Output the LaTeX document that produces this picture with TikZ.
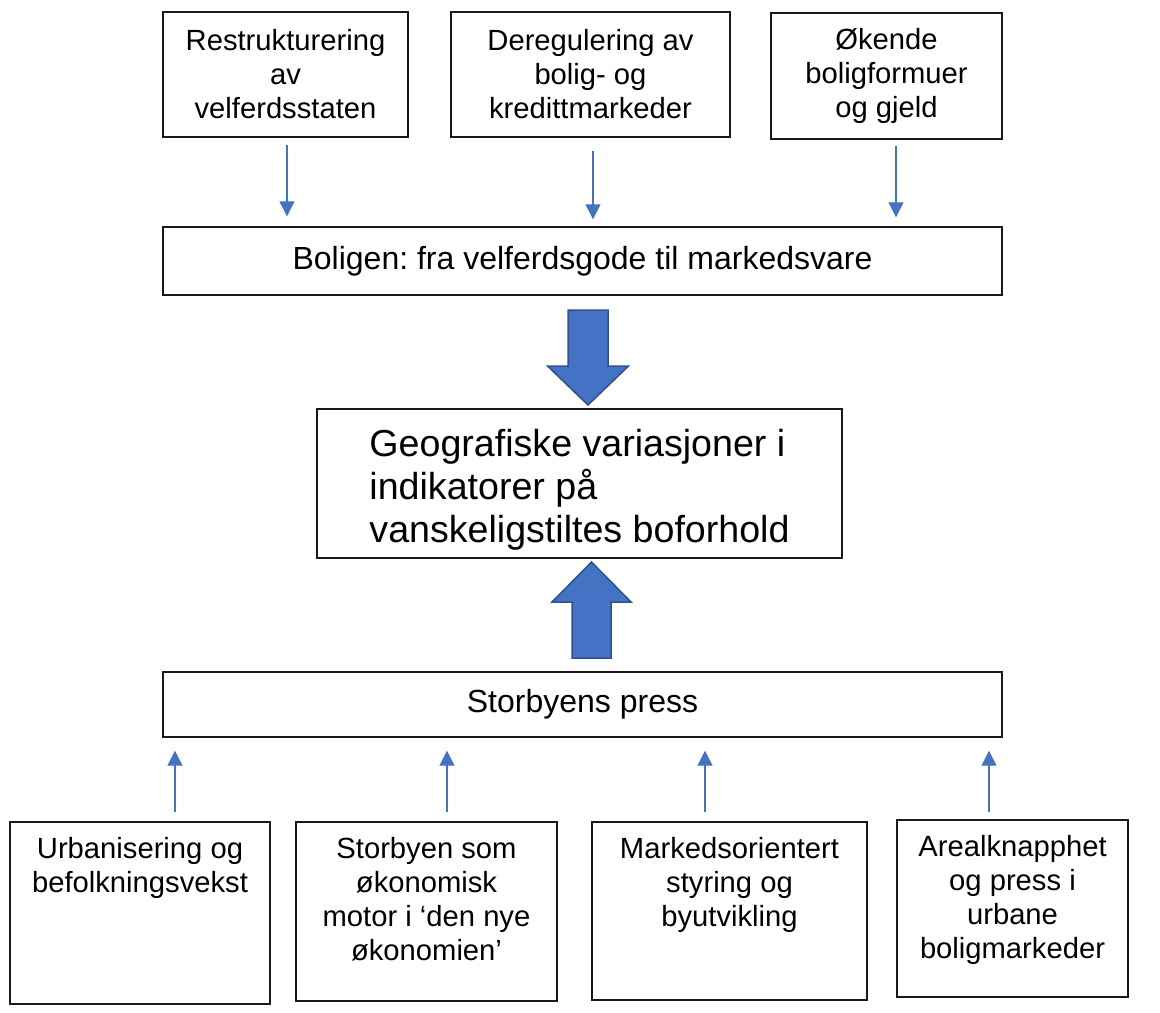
\documentclass[tikz,border=0pt]{standalone}
\usepackage{fontspec}
\setmainfont{Liberation Sans}
\usetikzlibrary{arrows.meta}
\frenchspacing

\definecolor{arrowblue}{RGB}{68,114,196}
\definecolor{arrowedge}{RGB}{47,82,143}

\newlength{\du}
\setlength{\du}{0.5pt}

\tikzset{
  box/.style={draw=black!90, line width=0.7pt, fill=white, inner sep=0pt, align=center},
  smalltxt/.style={font=\fontsize{14.6pt}{17pt}\selectfont},
  midtxt/.style={font=\fontsize{16pt}{18.5pt}\selectfont},
  bigtxt/.style={font=\fontsize{18.8pt}{21.5pt}\selectfont},
  toplbl/.style={anchor=north, inner sep=0pt, yshift=-8pt, align=center, smalltxt},
  thinarrow/.style={draw=arrowblue, line width=0.6pt, -{Triangle[width=7.5pt,length=7.5pt]}},
  blockarrow/.style={fill=arrowblue, draw=arrowedge, line width=0.75pt, line join=miter}
}

\begin{document}
\begin{tikzpicture}[x=\du, y=-\du]
\useasboundingbox (0,0) rectangle (1160,1012);

% top row
\node[box, smalltxt, minimum width=122.5pt, minimum height=62.5pt] (restr) at (285.5,74.5) {Restrukturering\\av\\velferdsstaten};
\node[box, smalltxt, minimum width=139.5pt, minimum height=62.5pt] (dereg) at (590.5,74.5) {Deregulering av\\bolig- og\\kredittmarkeder};
\node[box, smalltxt, minimum width=115.5pt, minimum height=63pt] (formue) at (886.5,76) {Økende\\boligformuer\\og gjeld};

\node[box, midtxt, minimum width=419.5pt, minimum height=34pt] (bolig) at (582.5,261) {Boligen: fra velferdsgode til markedsvare};

\node[box, bigtxt, align=left, minimum width=262.5pt, minimum height=74.5pt] (geo) at (579.5,483.5) {\rule{0pt}{20pt}Geografiske variasjoner i\\indikatorer på\\vanskeligstiltes boforhold};

\node[box, midtxt, minimum width=419.5pt, minimum height=32.5pt] (press) at (582.5,704.5) {Storbyens press};

% bottom row
\node[box, minimum width=130pt, minimum height=91pt, label={[toplbl]north:{Urbanisering og\\befolkningsvekst}}] (urban) at (140,913) {};
\node[box, minimum width=130.5pt, minimum height=89.5pt, label={[toplbl]north:{Storbyen som\\økonomisk\\motor i ‘den nye\\økonomien’}}] (motor) at (426.5,911.5) {};
\node[box, minimum width=137.5pt, minimum height=89pt, label={[toplbl]north:{Markedsorientert\\styring og\\byutvikling}}] (styring) at (729.5,911) {};
\node[box, minimum width=115.5pt, minimum height=88.5pt, label={[toplbl]north:{Arealknapphet\\og press i\\urbane\\boligmarkeder}}] (areal) at (1012.5,908.5) {};

\draw[thinarrow, shorten <=3.5pt, shorten >=5pt] ([xshift=0.75pt]restr.south) -- ([xshift=0.75pt]restr.south |- bolig.north);
\draw[thinarrow, shorten <=6.5pt, shorten >=3.5pt] ([xshift=1.25pt]dereg.south) -- ([xshift=1.25pt]dereg.south |- bolig.north);
\draw[thinarrow, shorten <=3pt, shorten >=4.5pt] ([xshift=4.75pt]formue.south) -- ([xshift=4.75pt]formue.south |- bolig.north);

\draw[thinarrow, shorten <=4.5pt, shorten >=6.5pt] ([xshift=17.5pt]urban.north) -- ([xshift=17.5pt]urban.north |- press.south);
\draw[thinarrow, shorten <=4.5pt, shorten >=6.5pt] ([xshift=10.25pt]motor.north) -- ([xshift=10.25pt]motor.north |- press.south);
\draw[thinarrow, shorten <=4.5pt, shorten >=6.5pt] ([xshift=-12.25pt]styring.north) -- ([xshift=-12.25pt]styring.north |- press.south);
\draw[thinarrow, shorten <=3.5pt, shorten >=6.5pt] ([xshift=-11.75pt]areal.north) -- ([xshift=-11.75pt]areal.north |- press.south);

% block arrows
\draw[blockarrow] (568,310) -- (608,310) -- (608,366) -- (628.5,366) -- (588,405) -- (547.5,366) -- (568,366) -- cycle;
\draw[blockarrow] (572,658) -- (572,602) -- (552,602) -- (591.5,562) -- (631,602) -- (611,602) -- (611,658) -- cycle;
\end{tikzpicture}
\end{document}
